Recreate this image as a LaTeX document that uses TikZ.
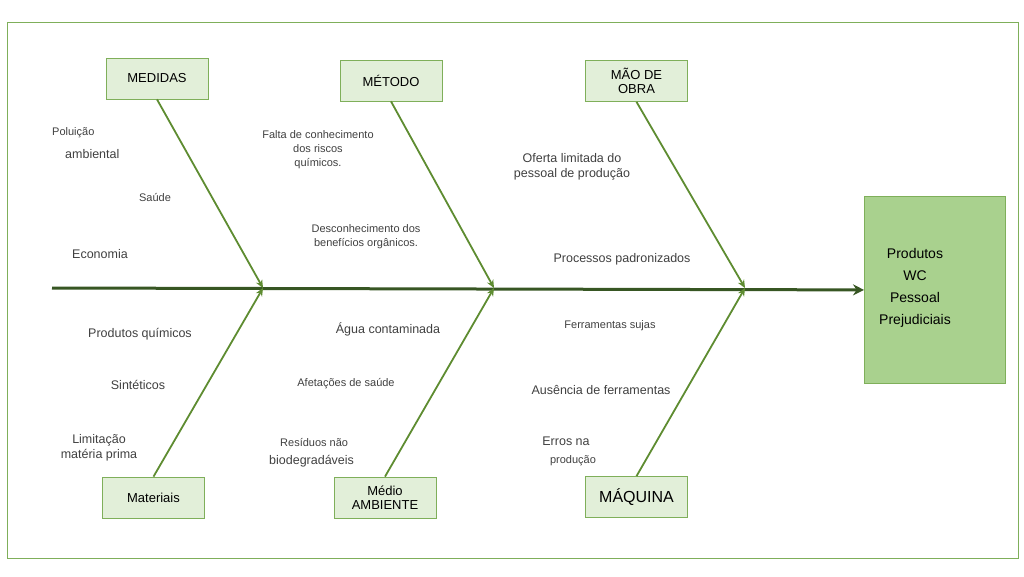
\documentclass[tikz,border=0pt]{standalone}
\usepackage{fontspec}
\setmainfont{Liberation Sans}
\usetikzlibrary{arrows.meta}
\definecolor{spine}{HTML}{375623}
\definecolor{bone}{HTML}{5E8C31}
\definecolor{catfill}{HTML}{E2EFD9}
\definecolor{catline}{HTML}{7FAF5A}
\definecolor{effill}{HTML}{A9D18E}
\definecolor{txt}{HTML}{404040}
\tikzset{
 cat/.style={draw=catline,fill=catfill,line width=0.8pt,minimum width=102pt,minimum height=41pt,inner sep=1pt,font=\fontsize{13}{14}\selectfont,text=black,align=center},
 bonel/.style={draw=bone,line width=1.8pt,-{Stealth[length=8pt,width=7pt]}},
 lbl/.style={font=\fontsize{12.5}{15}\selectfont,text=txt,align=center,inner sep=0pt},
 slbl/.style={font=\fontsize{11}{14}\selectfont,text=txt,align=center,inner sep=0pt}
}
\begin{document}
\begin{tikzpicture}[x=1pt,y=-1pt]
\useasboundingbox (0,0) rectangle (1024,576);
\draw[draw=catline,line width=0.8pt] (7,22) rectangle (1018,558);
\coordinate (s0) at (52,288);
\node[draw=catline,fill=effill,line width=0.8pt,minimum width=141pt,minimum height=187pt,anchor=north west,font=\fontsize{14}{22}\selectfont,align=center] (eff) at (864,196) {};
\node[font=\fontsize{14}{22}\selectfont,align=center] at (915,288) {Produtos\\WC\\Pessoal\\Prejudiciais};
\draw[draw=spine,line width=3pt,-{Stealth[length=11pt,width=11pt]}] (s0) -- (eff.west);
\node[cat] (c1) at (157,78.5) {MEDIDAS};
\node[cat] (c2) at (391,80.5) {MÉTODO};
\node[cat] (c3) at (636.5,81) {MÃO DE\\OBRA};
\node[cat] (c4) at (153.5,497.5) {Materiais};
\node[cat] (c5) at (385,497.5) {Médio\\AMBIENTE};
\node[cat,font=\fontsize{16}{18}\selectfont] (c6) at (636.5,497) {MÁQUINA};
\coordinate (j1) at (263,288);
\coordinate (j2) at (494,288);
\coordinate (j3) at (745,288);
\draw[bonel] (c1.south) -- (j1);
\draw[bonel] (c2.south) -- (j2);
\draw[bonel] (c3.south) -- (j3);
\draw[bonel] (c4.north) -- (j1);
\draw[bonel] (c5.north) -- (j2);
\draw[bonel] (c6.north) -- (j3);
\node[slbl,anchor=west] (t1) at (52,133) {Poluição};
\node[lbl,anchor=west] (t2) at (65,154) {ambiental};
\node[slbl] (t3) at (155,197) {Saúde};
\node[lbl] (t4) at (100,254) {Economia};
\node[slbl] (t5) at (318,150) {Falta de conhecimento\\dos riscos\\químicos.};
\node[slbl] (t6) at (366,237) {Desconhecimento dos\\benefícios orgânicos.};
\node[lbl] (t7) at (572,167) {Oferta limitada do\\pessoal de produção};
\node[lbl] (t8) at (622,259) {Processos padronizados};
\node[lbl] (t9) at (140,334) {Produtos químicos};
\node[lbl] (t10) at (138,385) {Sintéticos};
\node[lbl] (t11) at (99,448) {Limitação\\matéria prima};
\node[lbl] (t12) at (388,329) {Água contaminada};
\node[slbl] (t13) at (346,384) {Afetações de saúde};
\node[slbl,anchor=west] (t14) at (280,442) {Resíduos não};
\node[lbl,anchor=west] (t15) at (269,461) {biodegradáveis};
\node[slbl] (t16) at (610,326) {Ferramentas sujas};
\node[lbl] (t17) at (601,390) {Ausência de ferramentas};
\node[lbl] (t18) at (566,441) {Erros na};
\node[slbl] (t19) at (573,461) {produção};
\end{tikzpicture}
\end{document}
